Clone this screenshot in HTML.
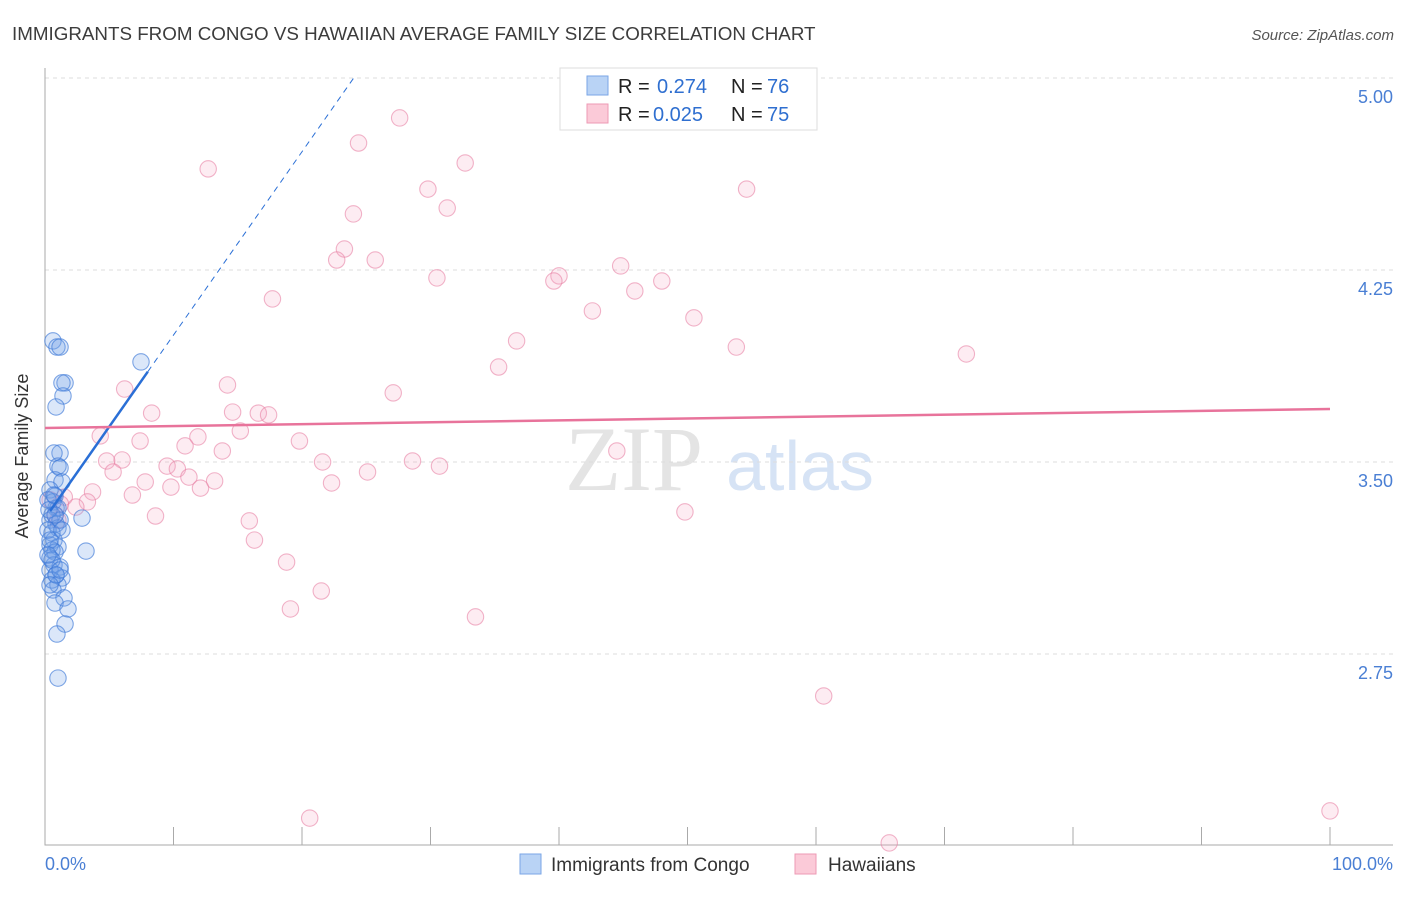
<!DOCTYPE html>
<html><head><meta charset="utf-8"><style>
body{margin:0;background:#fff;font-family:"Liberation Sans",sans-serif}
</style></head><body>
<svg id="c" width="1406" height="892" xmlns="http://www.w3.org/2000/svg" font-family="Liberation Sans, sans-serif">
<text x="12" y="40" font-size="18.8" fill="#3c3c3c">IMMIGRANTS FROM CONGO VS HAWAIIAN AVERAGE FAMILY SIZE CORRELATION CHART</text>
<text x="1394" y="40" font-size="15" fill="#555" font-style="italic" text-anchor="end">Source: ZipAtlas.com</text>
<text x="634" y="490" font-size="92" fill="#e4e4e4" font-family="Liberation Serif, serif" text-anchor="middle">ZIP</text>
<text x="800" y="490" font-size="70" fill="#d6e3f5" text-anchor="middle">atlas</text>
<g id="grid"></g><g id="axes"></g><g id="pts"></g><g id="trend"></g>
<text x="28" y="456" font-size="18" fill="#333" text-anchor="middle" transform="rotate(-90 28 456)">Average Family Size</text>
<g>
<rect x="560" y="68" width="257" height="62" fill="#fff" stroke="#ddd"/>
<rect x="587" y="76" width="21" height="19" fill="#b9d3f5" stroke="#7aa6e6"/>
<rect x="587" y="104" width="21" height="19" fill="#fbcad8" stroke="#ee9ab4"/>
<text x="618" y="93" font-size="20" fill="#222">R =</text>
<text x="657" y="93" font-size="20" fill="#2f6fd0">0.274</text>
<text x="731" y="93" font-size="20" fill="#222">N =</text>
<text x="767" y="93" font-size="20" fill="#2f6fd0">76</text>
<text x="618" y="121" font-size="20" fill="#222">R =</text>
<text x="653" y="121" font-size="20" fill="#2f6fd0">0.025</text>
<text x="731" y="121" font-size="20" fill="#222">N =</text>
<text x="767" y="121" font-size="20" fill="#2f6fd0">75</text>
</g>
<g>
<rect x="520" y="854" width="21" height="20" fill="#b9d3f5" stroke="#7aa6e6"/>
<text x="551" y="871" font-size="19" fill="#333">Immigrants from Congo</text>
<rect x="795" y="854" width="21" height="20" fill="#fbcad8" stroke="#ee9ab4"/>
<text x="828" y="871" font-size="19" fill="#333">Hawaiians</text>
</g>
</svg>
<script>
const yTicks=[5.00,4.25,3.50,2.75];
const xTickLabels=["0.0%","100.0%"];
const congoX=[0.62,0.93,1.17,7.47,1.56,1.32,1.40,0.86,1.17,0.70,1.01,1.17,0.78,1.32,0.39,0.78,0.62,0.86,1.01,0.54,2.88,0.39,0.86,1.01,0.54,0.70,0.39,1.01,0.54,3.19,0.78,0.39,0.70,1.17,0.39,0.86,1.32,0.54,1.01,0.62,1.48,0.78,1.79,1.56,0.93,1.01,0.23,0.23,0.39,1.17,0.31,0.54,0.86,0.39,1.17,0.70,0.23,0.78,1.32];
const congoY=[3.973,3.949,3.949,3.891,3.809,3.809,3.758,3.715,3.535,3.535,3.484,3.477,3.430,3.422,3.391,3.367,3.344,3.320,3.320,3.293,3.281,3.273,3.258,3.242,3.223,3.195,3.176,3.168,3.156,3.152,3.148,3.125,3.098,3.090,3.078,3.059,3.047,3.039,3.020,3.000,2.969,2.949,2.926,2.867,2.828,2.656,3.352,3.234,3.195,3.273,3.313,3.117,3.059,3.020,3.078,3.371,3.137,3.293,3.234];
const hawX=[12.7,27.6,24.4,32.7,29.8,54.6,31.3,24.0,23.3,22.7,25.7,30.5,40.0,39.6,44.8,48.0,45.9,17.7,42.6,50.5,36.7,53.8,71.7,35.3,6.2,14.2,27.1,8.3,14.6,16.6,17.4,15.2,4.3,11.9,7.4,10.9,19.8,13.8,44.5,4.8,6.0,21.6,28.6,30.7,9.5,5.3,10.3,25.1,11.2,7.8,13.2,22.3,9.8,12.1,3.7,6.8,1.5,3.3,1.2,2.4,8.6,15.9,49.8,16.3,18.8,21.5,19.1,33.5,60.6,20.6,65.7,100,0.8,1.0,0.4];
const hawY=[4.645,4.844,4.746,4.668,4.566,4.566,4.492,4.469,4.332,4.289,4.289,4.219,4.227,4.207,4.266,4.207,4.168,4.137,4.090,4.063,3.973,3.949,3.922,3.871,3.785,3.801,3.770,3.691,3.695,3.691,3.684,3.621,3.602,3.598,3.582,3.563,3.582,3.543,3.543,3.504,3.508,3.500,3.504,3.484,3.484,3.461,3.473,3.461,3.441,3.422,3.426,3.418,3.402,3.398,3.383,3.371,3.363,3.344,3.336,3.324,3.289,3.270,3.305,3.195,3.109,2.996,2.926,2.895,2.586,2.109,2.012,2.137,3.293,3.273,3.352];
const congoTrend=[3.28,0.0716];
const hawTrend=[3.633,0.00074];
const X=v=>45+v*12.85, Y=v=>78+(5-v)*256;
const NS="http://www.w3.org/2000/svg";
function mk(p,t,a){const e=document.createElementNS(NS,t);for(const k in a)e.setAttribute(k,a[k]);document.getElementById(p).appendChild(e);return e;}
yTicks.forEach((t,i)=>{
 const l=mk('grid','line',{x1:45,x2:1393,y1:Y(t),y2:Y(t),stroke:'#ddd','stroke-dasharray':'4,4'});
 
 
 const tx=mk('grid','text',{x:1393,y:Y(t)+25,'font-size':18,fill:'#4a7fd4','text-anchor':'end'});
 tx.textContent=t.toFixed(2);
 
 
});
const ax=mk('axes','path',{d:'M45,68V845H1393',stroke:'#aaa',fill:'none'});


for(let i=0;i<=10;i++){const t=mk('axes','line',{x1:X(i*10),x2:X(i*10),y1:827,y2:845,stroke:'#aaa'});
 
 }
[[0,'start',45],[1,'end',1393]].forEach(([i,a,x])=>{const t=mk('axes','text',{x:x,y:870,'font-size':18,fill:'#4a7fd4','text-anchor':a});t.textContent=xTickLabels[i];
 
 });
hawX.forEach((v,i)=>{const c=mk('pts','circle',{cx:X(v),cy:Y(hawY[i]),r:8.2,fill:'rgba(247,170,195,0.22)',stroke:'rgba(232,130,165,0.6)','stroke-width':1.1});
 
 });
congoX.forEach((v,i)=>{const c=mk('pts','circle',{cx:X(v),cy:Y(congoY[i]),r:8.2,fill:'rgba(110,160,230,0.25)',stroke:'rgba(60,120,215,0.65)','stroke-width':1.1});
 
 });
const cy=x=>congoTrend[0]+congoTrend[1]*x, hy=x=>hawTrend[0]+hawTrend[1]*x;
let l=mk('trend','line',{x1:X(0.4),y1:Y(cy(0.4)),x2:X(8),y2:Y(cy(8)),stroke:'#2a6fd6','stroke-width':2.5});


const x5=(5-congoTrend[0])/congoTrend[1];
l=mk('trend','line',{x1:X(8),y1:Y(cy(8)),x2:X(x5),y2:Y(5),stroke:'#2a6fd6','stroke-width':1,'stroke-dasharray':'6,5'});


l=mk('trend','line',{x1:X(0),y1:Y(hy(0)),x2:X(100),y2:Y(hy(100)),stroke:'#e8739b','stroke-width':2.5});


</script>
</body></html>
